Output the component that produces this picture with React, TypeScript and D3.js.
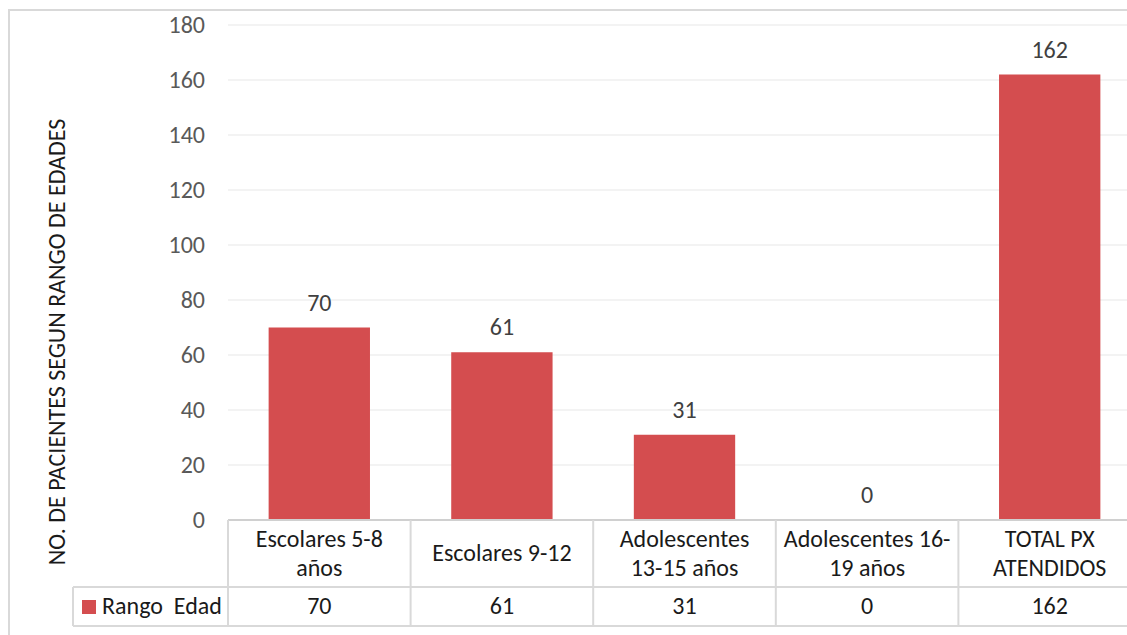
import React from "react";
import * as d3 from "d3";

const categories: string[][] = [
  ["Escolares 5-8", "años"],
  ["Escolares 9-12"],
  ["Adolescentes", "13-15 años"],
  ["Adolescentes 16-", "19 años"],
  ["TOTAL PX", "ATENDIDOS"],
];
const categoryKeys = ["c1", "c2", "c3", "c4", "c5"];
const values = [70, 61, 31, 0, 162];
const seriesName = "Rango  Edad";
const yTicks = [0, 20, 40, 60, 80, 100, 120, 140, 160, 180];
const yTitle = "NO. DE PACIENTES SEGUN RANGO DE EDADES";

const W = 1127;
const H = 635;
const FONT = "Carlito, Calibri, Lato, 'Open Sans', sans-serif";
const BAR = "#d44d4f";
const FS = 24;

export default function App() {
  const left = 228;
  const right = 1141;
  const top = 25;
  const bottom = 520;
  const x = d3.scaleBand<string>().domain(categoryKeys).range([left, right]).paddingInner(0.445).paddingOuter(0.2225);
  const band = d3.scaleBand<string>().domain(categoryKeys).range([left, right]);
  const y = d3.scaleLinear().domain([0, 180]).range([bottom, top]);
  const row1Bottom = 587;
  const row2Bottom = 626;
  const legendLeft = 73;
  const boundaries = categoryKeys.map((k) => band(k)!).concat([right]);

  return (
    <svg width={W} height={H} style={{ position: "absolute", left: 0, top: 0, background: "#fff" }} fontFamily={FONT}>
      <rect x={9} y={10} width={W + 20} height={H + 20} fill="#fff" stroke="#d9d9d9" strokeWidth={2} />
      {yTicks.filter((t) => t > 0).map((t) => (
        <line key={t} x1={left} x2={right} y1={y(t)} y2={y(t)} stroke="#efefef" strokeWidth={1.5} />
      ))}
      {yTicks.map((t) => (
        <text key={"l" + t} x={205} y={y(t)} dy="0.33em" textAnchor="end" fontSize={FS} fill="#595959">
          {t}
        </text>
      ))}
      {categoryKeys.map((k, i) => (
        <rect key={k} x={x(k)!} y={y(values[i])} width={x.bandwidth()} height={y(0) - y(values[i])} fill={BAR} />
      ))}
      {categoryKeys.map((k, i) => (
        <text key={"d" + k} x={x(k)! + x.bandwidth() / 2} y={y(values[i]) - 17} textAnchor="middle" fontSize={FS} fill="#404040">
          {values[i]}
        </text>
      ))}
      {/* table */}
      <line x1={left} x2={right} y1={bottom} y2={bottom} stroke="#d0d0d0" strokeWidth={2} />
      <line x1={legendLeft} x2={right} y1={row1Bottom} y2={row1Bottom} stroke="#d9d9d9" strokeWidth={2} />
      <line x1={legendLeft} x2={right} y1={row2Bottom} y2={row2Bottom} stroke="#d9d9d9" strokeWidth={2} />
      <line x1={legendLeft} x2={legendLeft} y1={row1Bottom} y2={row2Bottom} stroke="#d9d9d9" strokeWidth={2} />
      {boundaries.map((bx, i) => (
        <line key={"v" + i} x1={bx} x2={bx} y1={bottom} y2={row2Bottom} stroke="#d9d9d9" strokeWidth={2} />
      ))}
      {categoryKeys.map((k, i) => {
        const cx = band(k)! + band.bandwidth() / 2;
        const lines = categories[i];
        const cy = (bottom + row1Bottom) / 2;
        const lh = 29;
        return (
          <text key={"c" + k} x={cx} textAnchor="middle" fontSize={FS} fill="#1a1a1a">
            {lines.map((ln, j) => (
              <tspan key={j} x={cx} y={cy + (j - (lines.length - 1) / 2) * lh} dy="0.33em">
                {ln}
              </tspan>
            ))}
          </text>
        );
      })}
      {categoryKeys.map((k, i) => (
        <text key={"v" + k} x={band(k)! + band.bandwidth() / 2} y={(row1Bottom + row2Bottom) / 2} dy="0.33em" textAnchor="middle" fontSize={FS} fill="#1a1a1a">
          {values[i]}
        </text>
      ))}
      <rect x={82} y={600} width={14} height={14} fill={BAR} />
      <text x={102} y={(row1Bottom + row2Bottom) / 2} dy="0.33em" fontSize={FS} fill="#1a1a1a" style={{ whiteSpace: "pre" }}>
        {seriesName}
      </text>
      <text transform={`translate(65,342) rotate(-90)`} textAnchor="middle" fontSize={FS} fill="#1a1a1a">
        {yTitle}
      </text>
    </svg>
  );
}
